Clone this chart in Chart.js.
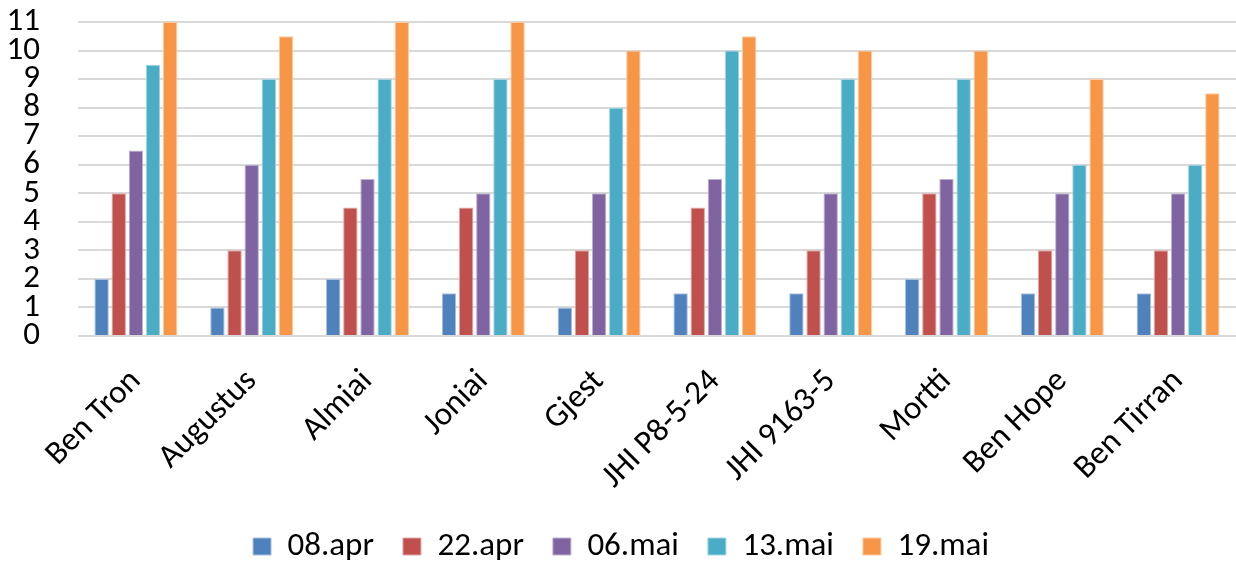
<!DOCTYPE html>
<html>
<head>
    <title>Sorter</title>
    <style>
        html, body {
            margin: 0;
            padding: 0;
            background: #ffffff;
            overflow: hidden;
        }
        .wrap {
            width: 1236px;
            height: 562px;
        }
    </style>
    <script src="https://cdn.jsdelivr.net/npm/chart.js"></script>
</head>
<body>
    <div class="wrap">
        <canvas id="sortChart" width="1236" height="562"></canvas>
    </div>

    <script>
        const sorter = ['Ben Tron', 'Augustus', 'Almiai', 'Joniai', 'Gjest', 'JHI P8-5-24', 'JHI 9163-5', 'Mortti', 'Ben Hope', 'Ben Tirran'];
        const datoer = ['08.apr', '22.apr', '06.mai', '13.mai', '19.mai'];

        const apr08 = [2, 1, 2, 1.5, 1, 1.5, 1.5, 2, 1.5, 1.5];
        const apr22 = [5, 3, 4.5, 4.5, 3, 4.5, 3, 5, 3, 3];
        const mai06 = [6.5, 6, 5.5, 5, 5, 5.5, 5, 5.5, 5, 5];
        const mai13 = [9.5, 9, 9, 9, 8, 10, 9, 9, 6, 6];
        const mai19 = [11, 10.5, 11, 11, 10, 10.5, 10, 10, 9, 8.5];

        const farger = ['#4F81BD', '#C0504D', '#8064A2', '#4BACC6', '#F79646'];
        const kanter = ['#a7c0de', '#e0a8a6', '#bfb1d0', '#a5d5e2', '#fbcaa2'];
        const serier = [apr08, apr22, mai06, mai13, mai19];

        const font = "Carlito, Lato, 'Open Sans', sans-serif";

        // legend sits a bit lower than Chart.js puts it
        const legendNed = {
            id: 'legendNed',
            afterLayout(chart) {
                chart.legend.top += 11;
                chart.legend.bottom += 11;
            }
        };

        const ctx = document.getElementById('sortChart').getContext('2d');
        new Chart(ctx, {
            type: 'bar',
            data: {
                labels: sorter,
                datasets: serier.map((verdier, i) => ({
                    label: datoer[i],
                    data: verdier,
                    backgroundColor: farger[i],
                    borderColor: kanter[i],
                    borderWidth: 1,
                    barPercentage: 0.84,
                    categoryPercentage: 0.74
                }))
            },
            plugins: [legendNed],
            options: {
                responsive: false,
                animation: false,
                layout: {
                    padding: { top: 0, right: 0, left: 6, bottom: 0 }
                },
                plugins: {
                    tooltip: { enabled: false },
                    legend: {
                        position: 'bottom',
                        labels: {
                            color: '#000000',
                            font: { family: font, size: 33 },
                            boxWidth: 18,
                            boxHeight: 17,
                            padding: 29
                        }
                    }
                },
                scales: {
                    x: {
                        grid: { display: false },
                        border: { display: false },
                        ticks: {
                            color: '#000000',
                            font: { family: font, size: 33 },
                            maxRotation: 45,
                            minRotation: 45,
                            autoSkip: false,
                            padding: 18
                        },
                        afterFit(scale) {
                            scale.height = 154;
                            scale.paddingLeft = 0;
                            scale.paddingRight = 0;
                        }
                    },
                    y: {
                        min: 0,
                        max: 11,
                        border: { display: false },
                        grid: {
                            color: '#d9d9d9',
                            lineWidth: 2,
                            drawTicks: false
                        },
                        ticks: {
                            stepSize: 1,
                            autoSkip: false,
                            color: '#000000',
                            font: { family: font, size: 33, lineHeight: 1 },
                            padding: 38
                        },
                        afterFit(scale) {
                            scale.width = 72;
                            scale.paddingTop = 22;
                            scale.paddingBottom = 0;
                        }
                    }
                }
            }
        });
    </script>
</body>
</html>
